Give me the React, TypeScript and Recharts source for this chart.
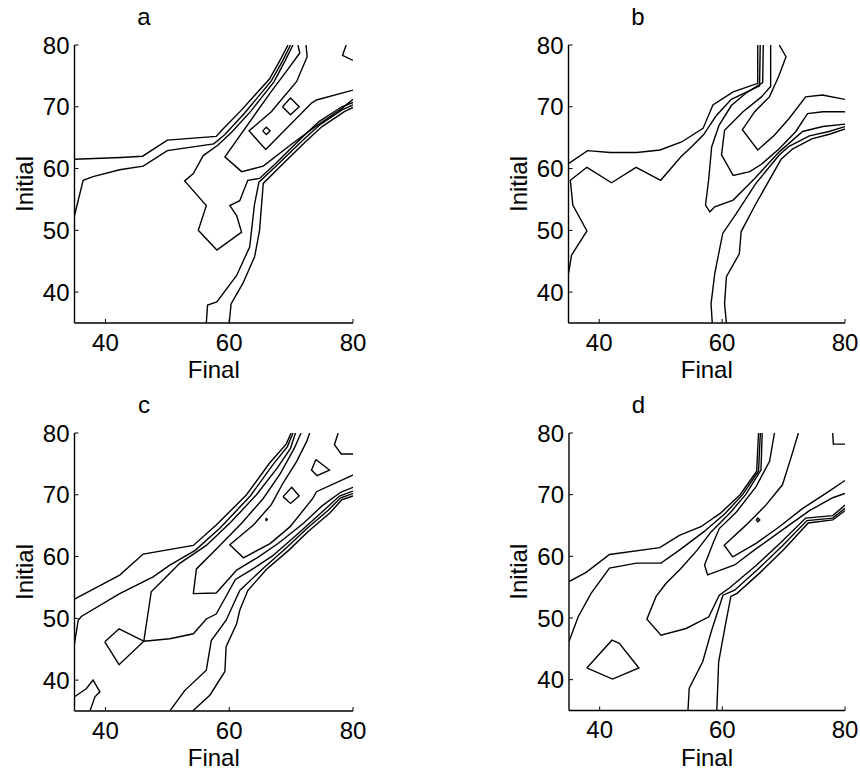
import React from 'react';
import { ScatterChart, Scatter, XAxis, YAxis } from 'recharts';

type P = [number, number];

// ---------- tick labels ----------
const xTicks = [40, 60, 80];
const yTicks = [40, 50, 60, 70, 80];
const titles = ['a', 'b', 'c', 'd'];

// ---------- panel a contours (Final, Initial) ----------
const aLevel1: P[] = [[35, 61.5], [42.5, 61.8], [46, 62], [50, 64.6], [57.9, 65.2], [58.8, 66.2], [62, 69.5], [66.5, 74.5], [68.2, 77.5], [69.5, 80]];
const aLevel2: P[] = [[35, 52.4], [36.4, 58.1], [38, 58.7], [42.3, 59.8], [46.1, 60.4], [50, 62.9], [57.5, 64.0], [59.3, 65.5], [62.5, 69], [66.8, 74.2], [68.6, 77.4], [69.9, 80]];
const aBlob: P[] = [[70.3, 80], [69.0, 77.4], [67.2, 74.0], [63.5, 69.3], [60.5, 66.0], [58.2, 63.8], [55.8, 62.1], [54.2, 59.2], [52.8, 58.0], [56.3, 54.0], [55.0, 50.0], [58.0, 46.8], [62.0, 49.7], [61.2, 52.4], [60.1, 54.0], [61.7, 54.8], [63.0, 58.1], [64.9, 58.4], [67.5, 60.8], [71.5, 64.8], [74.5, 67.6], [78.2, 70.0], [80, 70.7]];
const aLowLeft: P[] = [[56.3, 35], [56.5, 37.9], [58.0, 38.4], [61.2, 42.7], [63.3, 47.3], [64.1, 54.3], [64.8, 57.8], [67.8, 60.6], [71.8, 64.5], [74.8, 67.2], [78.4, 69.6], [80, 70.3]];
const aLowRight: P[] = [[60.0, 35], [60.3, 38.1], [62.2, 41.4], [64.1, 45.7], [64.9, 50.0], [65.5, 57.6], [68.2, 60.3], [72.2, 64.2], [75, 66.8], [78.6, 69.2], [80, 69.9]];
const aLevel3: P[] = [[71.1, 80], [71.4, 78.7], [69.8, 76.5], [66.6, 72.2], [59.3, 61.9], [62.0, 59.5], [65.5, 60.4], [70, 63.9], [73.8, 66.7], [77.9, 69.5], [80, 71.2]];
const aLevel4: P[] = [[72.4, 80], [72.6, 78.1], [70.9, 74.1], [66.8, 69.2], [63.2, 66.1], [65.9, 63.1], [73.3, 70.6], [74.1, 71.1], [80, 72.7]];
const aPeakSmall: P[] = [[65.4, 66.1], [66.0, 66.7], [66.6, 66.1], [66.0, 65.5], [65.4, 66.1]];
const aPeakBig: P[] = [[68.6, 70.0], [69.9, 71.4], [71.3, 70.0], [69.9, 68.7], [68.6, 70.0]];
const aCorner: P[] = [[78.9, 80], [78.3, 78.3], [80, 77.5]];

// ---------- panel b contours ----------
const bLevel1: P[] = [[35, 60.8], [38.1, 62.9], [41.8, 62.6], [46.1, 62.6], [49.9, 63.0], [53.4, 64.3], [56.9, 66.5], [58.5, 70.3], [61.8, 72.4], [65.8, 73.8], [65.8, 80]];
const bLevel2: P[] = [[35, 43], [35.5, 46], [38, 49.9], [35.7, 54.1], [35.3, 58.1], [38, 60.2], [42, 57.7], [46, 60.2], [50, 58.1], [53.3, 61.9], [55, 63.5], [57, 65.5], [59, 68.5], [61.5, 71.2], [66.1, 73.4], [66.2, 80]];
const bLevel3: P[] = [[66.7, 80], [66.6, 73.9], [64, 72.3], [61.5, 70.2], [59.5, 67], [58.3, 63.5], [57.8, 58.1], [57.3, 54.1], [58.0, 53.0], [58.8, 53.8], [61.8, 54.9], [65.3, 58.4], [69.3, 62.7], [73.1, 66.0], [76.4, 66.8], [80, 67.2]];
const bLevel4: P[] = [[67.9, 80], [67.9, 73.3], [66.4, 71.6], [63.4, 69.2], [60.4, 66.2], [59.9, 62.2], [61.8, 58.9], [64.5, 59.5], [66.4, 60.7], [69.3, 63.2], [72.0, 66.0], [73.9, 68.9], [76.4, 69.2], [80, 69.2]];
const bLevel5: P[] = [[69.3, 80], [70.4, 78.1], [69.2, 74.9], [67.7, 71.6], [65.3, 69.2], [63.3, 66.3], [65.8, 63.0], [68.5, 65.4], [70.9, 68.1], [73.6, 71.6], [76.3, 71.9], [80, 71.2]];
const bLowLeft: P[] = [[58.4, 35], [58.2, 38.1], [58.8, 43.0], [60.1, 49.5], [62.3, 52.7], [65.5, 57.6], [69.3, 62.2], [70.9, 63.6], [74.2, 65.3], [77.4, 66.0], [80, 66.8]];
const bLowRight: P[] = [[60.7, 35], [60.4, 38.1], [60.7, 42.5], [62.8, 46.2], [63.1, 49.8], [65.5, 54.3], [69.6, 61.5], [71.5, 63.2], [74.6, 64.8], [77.6, 65.6], [80, 66.4]];

// ---------- panel c contours ----------
const cLevel1: P[] = [[35, 53.1], [42.3, 57.0], [46.1, 60.4], [54.2, 61.8], [57.9, 65.1], [62.8, 70.0], [66.5, 75.1], [69.2, 78.2], [70.0, 80]];
const cLevel2: P[] = [[35, 45.9], [35.6, 49.7], [36.1, 50.3], [42.3, 54.0], [47.7, 56.7], [50.4, 58.6], [54.5, 61.0], [58.6, 64.7], [63.4, 69.8], [67, 74.8], [69.4, 77.8], [70.3, 80]];
const cSaddleUp: P[] = [[46.2, 46.3], [47.4, 54.3], [50.4, 57.3], [52.0, 58.9], [56.3, 61.8], [60.2, 65.5], [64.4, 70.0], [67.8, 74.4], [69.9, 77.5], [70.7, 80]];
const cSaddleLoop: P[] = [[39.9, 46.2], [42.2, 48.3], [46.2, 46.3], [42.2, 42.5], [39.9, 46.2]];
const cSaddleRight: P[] = [[46.2, 46.3], [50.4, 46.7], [54.2, 47.5], [56.3, 49.9], [57.9, 50.7], [61, 56.3], [63.5, 57.8], [67, 60.1], [71, 63.6], [75, 67.2], [77.8, 69.8], [80, 70.6]];
const cLevel3: P[] = [[71.6, 80], [70.5, 77.5], [68.3, 73.5], [65.5, 69.4], [62, 65.4], [58, 61.3], [54.7, 58.0], [54.2, 54.0], [57.9, 54.1], [61.2, 57.8], [64.5, 59.8], [68, 62.2], [72, 65.4], [75, 68.2], [78, 70.4], [80, 71.2]];
const cLevel4: P[] = [[73.0, 80], [72.5, 78.6], [70.9, 75.4], [68.7, 71.9], [66.8, 68.4], [63.9, 65.1], [60.1, 61.9], [62.3, 59.8], [66.6, 62.1], [69.8, 64.8], [73.5, 69.4], [74.1, 70.5], [78.9, 72.7], [80, 73.2]];
const cLowLeft: P[] = [[50.4, 35], [52.8, 38.3], [56.3, 41.6], [57.1, 46.4], [59.5, 49.7], [61.7, 54.5], [65.5, 58.1], [69.2, 61.4], [72.5, 64.5], [76, 67.5], [78, 69.5], [80, 70.2]];
const cLowRight: P[] = [[54.1, 35], [56.9, 37.6], [59.3, 41.4], [59.5, 45.4], [61.2, 49.1], [61.7, 51.3], [63, 54.5], [66, 57.9], [69.6, 61.0], [72.8, 64.1], [76.3, 67.1], [78.2, 69.2], [80, 69.8]];
const cTriangle: P[] = [[74.0, 75.7], [76.2, 74.0], [74.2, 73.1], [73.3, 74.0], [74.0, 75.7]];
const cDiamond: P[] = [[68.7, 69.7], [70.1, 71.2], [71.3, 69.8], [69.9, 68.6], [68.7, 69.7]];
const cDot: P[] = [[65.85, 66], [66, 66.15], [66.15, 66], [66, 65.85], [65.85, 66]];
const cCorner: P[] = [[77.6, 80], [77.0, 78.1], [78.1, 76.6], [80, 76.6]];
const cBottomLeft: P[] = [[35, 37.3], [36.9, 38.6], [38.0, 40.0], [39.1, 38.1], [38.3, 37.3], [37.5, 35]];

// ---------- panel d contours ----------
const dLevel1: P[] = [[35, 55.9], [37.8, 57.4], [41.6, 60.3], [49.8, 61.4], [53.0, 63.4], [56.5, 64.8], [59.7, 67.0], [62.9, 70.0], [65.6, 73.8], [65.9, 80]];
const dLevel2: P[] = [[35, 46.2], [36.5, 50.2], [38.6, 54.0], [41.6, 58.1], [46.0, 58.9], [50.0, 58.9], [53.0, 61.0], [57.0, 64.0], [60.5, 67.0], [63.3, 70.0], [65.9, 73.8], [66.2, 80]];
const dLevel3: P[] = [[66.5, 80], [66.3, 74.0], [63.8, 70.0], [61.2, 67.0], [58.2, 64.0], [55.9, 61.0], [53.2, 58.0], [50.8, 55.6], [49.2, 53.5], [47.7, 49.8], [50.0, 47.2], [54.1, 48.3], [57.8, 50.2], [59.5, 53.7], [61.2, 54.9], [65.5, 58.5], [69.5, 62.2], [73.6, 66.2], [78, 66.6], [80, 68.3]];
const dLevel4: P[] = [[68.5, 80], [67.7, 75.4], [65.5, 71.3], [62.3, 67.2], [59.5, 64.5], [58.6, 62.4], [57.1, 58.6], [57.6, 57.0], [62.0, 58.6], [65.2, 61.0], [69.8, 64.3], [74.2, 67.4], [78, 69.5], [80, 70.2]];
const dLevel5: P[] = [[72.4, 80], [71.2, 76], [69.8, 71.6], [67.1, 68.3], [63.9, 65.1], [60.3, 61.8], [61.7, 59.9], [65.5, 62.1], [69.3, 64.8], [73, 67.7], [77, 70.3], [80, 72.3]];
const dLowLeft: P[] = [[54.4, 35], [54.6, 38.6], [56.8, 42.9], [58.2, 47.8], [60.1, 53.7], [62.0, 54.5], [65.8, 57.9], [69.8, 61.7], [73.8, 65.8], [78, 66.2], [80, 67.8]];
const dLowRight: P[] = [[59.1, 35], [59.4, 42.9], [60.6, 49.4], [61.4, 53.5], [62.4, 54.0], [66.2, 57.4], [70.1, 61.2], [74.0, 65.4], [78, 65.9], [80, 67.4]];
const dIsland: P[] = [[37.9, 41.9], [42.0, 46.4], [43.2, 45.9], [46.4, 41.9], [42.1, 40.1], [37.9, 41.9]];
const dPeak: P[] = [[65.5, 65.9], [65.8, 66.2], [66.1, 65.9], [65.8, 65.6], [65.5, 65.9]];
const dCorner: P[] = [[78.0, 80], [78.1, 78.2], [80, 78.2]];

const panelA = [aLevel1, aLevel2, aBlob, aLowLeft, aLowRight, aLevel3, aLevel4, aPeakSmall, aPeakBig, aCorner];
const panelB = [bLevel1, bLevel2, bLevel3, bLevel4, bLevel5, bLowLeft, bLowRight];
const panelC = [cLevel1, cLevel2, cSaddleUp, cSaddleLoop, cSaddleRight, cLevel3, cLevel4, cLowLeft, cLowRight, cTriangle, cDiamond, cDot, cCorner, cBottomLeft];
const panelD = [dLevel1, dLevel2, dLevel3, dLevel4, dLevel5, dLowLeft, dLowRight, dIsland, dPeak, dCorner];

// ---------- layout ----------
const BOX_W = 430;
const BOX_H = 388;
const YW = 60;
const XH = 60;
const FONT = '"Liberation Sans", Arial, Helvetica, sans-serif';
const FS = 24;
const STROKE = 1.4;

type Rect = { left: number; top: number; width: number; height: number };

const panels: { contours: P[][]; boxLeft: number; boxTop: number; plot: Rect }[] = [
  { contours: panelA, boxLeft: 0, boxTop: 0, plot: { left: 74.5, top: 45, width: 278.5, height: 278 } },
  { contours: panelB, boxLeft: 430, boxTop: 0, plot: { left: 568.5, top: 45, width: 276.5, height: 278 } },
  { contours: panelC, boxLeft: 0, boxTop: 388, plot: { left: 74.5, top: 433, width: 278.5, height: 278 } },
  { contours: panelD, boxLeft: 430, boxTop: 388, plot: { left: 569, top: 433, width: 276, height: 277.5 } },
];

const toXY = (pts: P[]) => pts.map(([x, y]) => ({ x, y }));
const NoDot = () => <g />;

function Panel({ contours, boxLeft, boxTop, plot }: { contours: P[][]; boxLeft: number; boxTop: number; plot: Rect }) {
  const margin = {
    left: plot.left - boxLeft - YW,
    top: plot.top - boxTop,
    right: BOX_W - (plot.left - boxLeft + plot.width),
    bottom: BOX_H - (plot.top - boxTop + plot.height) - XH,
  };
  const axisLine = { stroke: '#000', strokeWidth: STROKE };
  const tickLine = { stroke: '#000', strokeWidth: 1 };
  const tickStyle = { fontSize: FS, fill: '#000', fontFamily: FONT };
  return (
    <div style={{ position: 'absolute', left: boxLeft, top: boxTop, width: BOX_W, height: BOX_H }}>
      <ScatterChart width={BOX_W} height={BOX_H} margin={margin}>
        <XAxis xAxisId="b" type="number" dataKey="x" domain={[35, 80]} ticks={xTicks} allowDataOverflow orientation="bottom"
          height={XH} tickSize={-4} tickMargin={14.5} interval={0} tick={tickStyle} axisLine={axisLine} tickLine={tickLine} />
        <XAxis xAxisId="t" type="number" dataKey="x" domain={[35, 80]} ticks={xTicks} allowDataOverflow orientation="top"
          height={0} tickSize={-4} interval={0} tick={false} axisLine={axisLine} tickLine={tickLine} />
        <YAxis yAxisId="l" type="number" dataKey="y" domain={[35, 80]} ticks={yTicks} allowDataOverflow orientation="left"
          width={YW} tickSize={-4} tickMargin={9} interval={0} tick={tickStyle} axisLine={axisLine} tickLine={tickLine} />
        <YAxis yAxisId="r" type="number" dataKey="y" domain={[35, 80]} ticks={yTicks} allowDataOverflow orientation="right"
          width={0} tickSize={-4} interval={0} tick={false} axisLine={axisLine} tickLine={tickLine} />
        {contours.map((c, i) => (
          <Scatter key={i} xAxisId="b" yAxisId="l" data={toXY(c)} line={{ stroke: '#000', strokeWidth: STROKE }}
            lineType="joint" shape={NoDot} isAnimationActive={false} />
        ))}
      </ScatterChart>
    </div>
  );
}

export default function App() {
  return (
    <div style={{ position: 'absolute', left: 0, top: 0, width: 860, height: 770, background: '#fff', overflow: 'hidden' }}>
      {panels.map((p, i) => (
        <Panel key={i} contours={p.contours} boxLeft={p.boxLeft} boxTop={p.boxTop} plot={p.plot} />
      ))}
      <svg width={860} height={770} style={{ position: 'absolute', left: 0, top: 0, pointerEvents: 'none' }}>
        {panels.map((p, i) => {
          const cx = p.plot.left + p.plot.width / 2;
          const cy = p.plot.top + p.plot.height / 2;
          const bottom = p.plot.top + p.plot.height;
          const lx = p.plot.left - 42;
          return (
            <g key={i} fontFamily={FONT} fontSize={FS} fill="#000">
              <text x={p.plot.left + 69.5} y={p.plot.top - 20} textAnchor="middle">{titles[i]}</text>
              <text x={cx} y={Math.min(bottom + 55, 766)} textAnchor="middle">Final</text>
              <text x={lx} y={cy} textAnchor="middle" transform={`rotate(-90 ${lx} ${cy})`}>Initial</text>
            </g>
          );
        })}
      </svg>
    </div>
  );
}
